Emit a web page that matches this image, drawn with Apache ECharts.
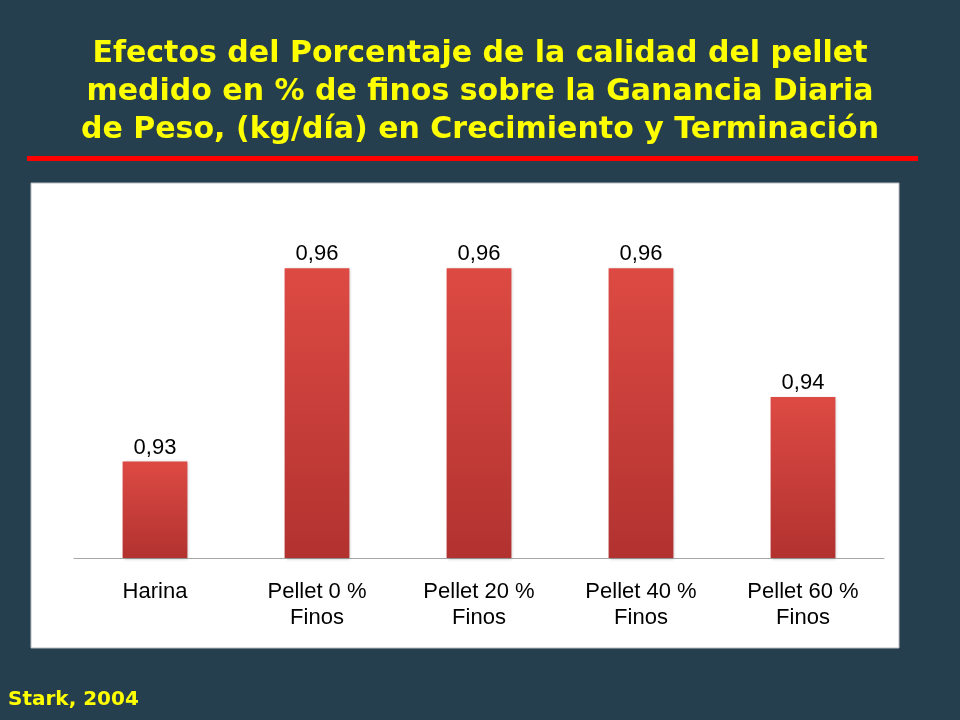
<!DOCTYPE html>
<html>
<head>
<meta charset="utf-8">
<script src="https://cdn.jsdelivr.net/npm/echarts@6/dist/echarts.min.js"></script>
<style>
  html, body { margin: 0; padding: 0; background: #253f4f; }
  #chart { width: 960px; height: 720px; }
</style>
</head>
<body>
<div id="chart"></div>
<script>
// data
var categories = ['Harina', 'Pellet 0 %\nFinos', 'Pellet 20 %\nFinos', 'Pellet 40 %\nFinos', 'Pellet 60 %\nFinos'];
var gananciaDiaria = [0.93, 0.96, 0.96, 0.96, 0.94];

var titleText = 'Efectos del Porcentaje de la calidad del pellet\nmedido en % de finos sobre la Ganancia Diaria\nde Peso, (kg/día) en Crecimiento y Terminación';

var chart = echarts.init(document.getElementById('chart'));

var barColor = new echarts.graphic.LinearGradient(0, 0, 0, 1, [
  { offset: 0, color: '#dd4a43' },
  { offset: 1, color: '#b23230' }
]);

chart.setOption({
  backgroundColor: '#253f4f',
  animation: false,
  title: {
    text: titleText,
    left: 'center',
    top: 30,
    textStyle: {
      color: '#ffff00',
      fontFamily: 'DejaVu Sans',
      fontWeight: 'bold',
      fontSize: 30,
      lineHeight: 38
    }
  },
  graphic: [
    { type: 'rect', shape: { x: 27, y: 156, width: 891, height: 5 }, style: { fill: '#ff0000' }, z: 0 },
    { type: 'rect', shape: { x: 31, y: 183, width: 868, height: 465 },
      style: { fill: '#ffffff', stroke: '#b8bcc0', lineWidth: 1 }, z: -10 },
    { type: 'text', left: 8, top: 690,
      style: { text: 'Stark, 2004', fill: '#ffff00', font: 'bold 20px "DejaVu Sans"' } }
  ],
  grid: { left: 74, right: 76, top: 204, bottom: 162 },
  xAxis: {
    type: 'category',
    data: categories,
    axisLine: { lineStyle: { color: '#a6a6a6', width: 1 } },
    axisTick: { show: false },
    axisLabel: {
      color: '#000000',
      fontFamily: 'Liberation Sans',
      fontSize: 22,
      lineHeight: 26,
      margin: 21,
      interval: 0
    }
  },
  yAxis: {
    type: 'value',
    min: 0.915,
    max: 0.97,
    show: false,
    splitLine: { show: false }
  },
  series: [{
    type: 'bar',
    data: gananciaDiaria,
    barWidth: '40%',
    itemStyle: {
      color: barColor,
      shadowColor: 'rgba(0,0,0,0.25)',
      shadowBlur: 3,
      shadowOffsetX: 1,
      shadowOffsetY: 1
    },
    label: {
      show: true,
      position: 'top',
      distance: 3,
      color: '#000000',
      fontFamily: 'Liberation Sans',
      fontSize: 22,
      formatter: function (p) { return p.value.toFixed(2).replace('.', ','); }
    }
  }]
});
</script>
</body>
</html>
